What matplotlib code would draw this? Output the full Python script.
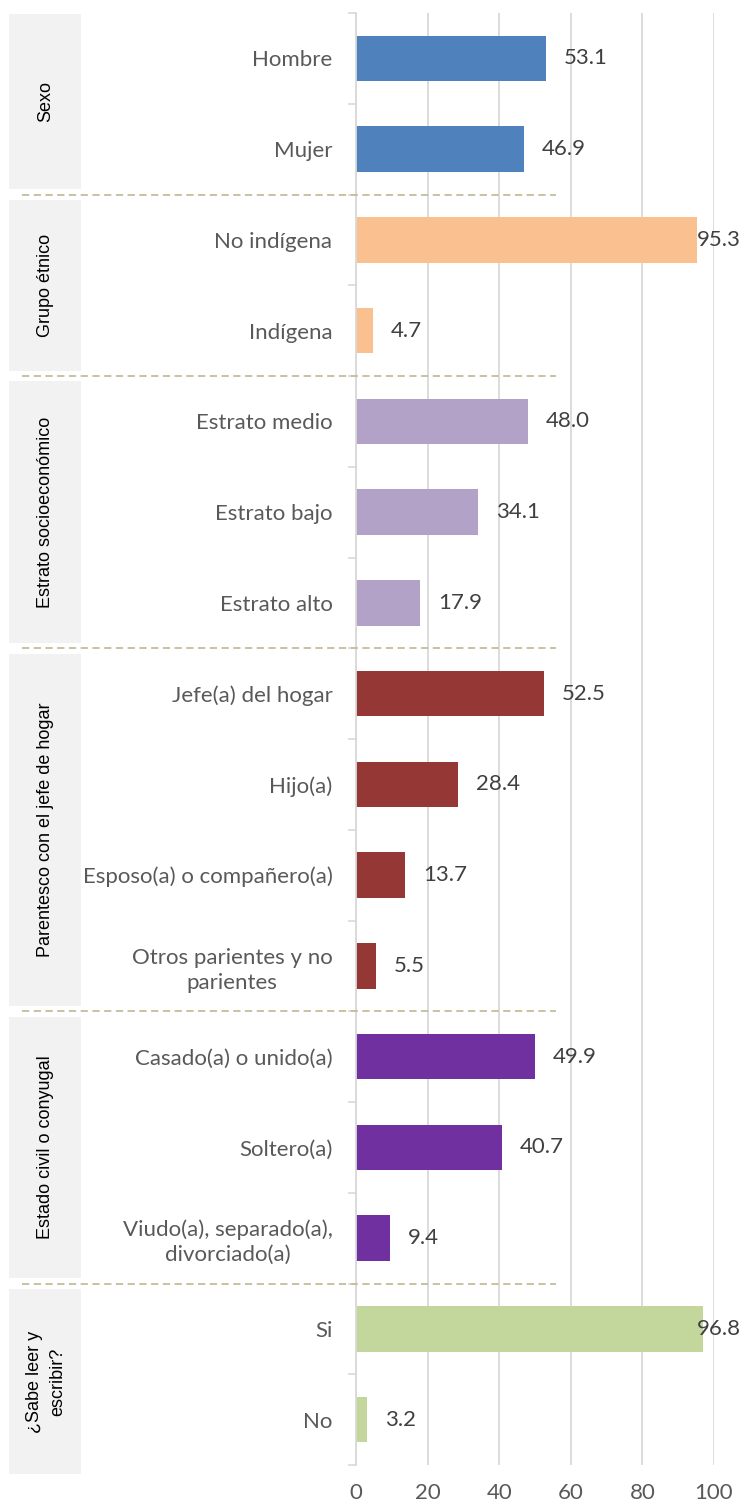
import numpy as np
import matplotlib
matplotlib.use("Agg")
import matplotlib.pyplot as plt
from matplotlib import font_manager
from matplotlib.patches import Rectangle
from matplotlib.lines import Line2D
from matplotlib.transforms import blended_transform_factory

# data
categories = ["Hombre", "Mujer",
              "No indígena", "Indígena",
              "Estrato medio", "Estrato bajo", "Estrato alto",
              "Jefe(a) del hogar", "Hijo(a)", "Esposo(a) o compañero(a)",
              "Otros parientes y no\nparientes",
              "Casado(a) o unido(a)", "Soltero(a)",
              "Viudo(a), separado(a),\ndivorciado(a)",
              "Si", "No"]
values = [53.1, 46.9,
          95.3, 4.7,
          48.0, 34.1, 17.9,
          52.5, 28.4, 13.7, 5.5,
          49.9, 40.7, 9.4,
          96.8, 3.2]
groups = ["Sexo", "Grupo étnico", "Estrato socioeconómico",
          "Parentesco con el jefe de hogar", "Estado civil o conyugal",
          "¿Sabe leer y\nescribir?"]
group_sizes = [2, 2, 3, 4, 3, 2]
group_colors = ["#4F81BD", "#FAC090", "#B3A2C7", "#953735", "#7030A0", "#C3D69B"]
xticks = [0, 20, 40, 60, 80, 100]

W, H = 742, 1505
fig = plt.figure(figsize=(W / 100, H / 100), dpi=100)
ax = fig.add_axes([356 / W, 1 - 1465 / H, (714 - 356) / W, (1465 - 13) / H])

colors = []
for c, n in zip(group_colors, group_sizes):
    colors += [c] * n

y = np.arange(len(categories))
ax.barh(y, values, height=0.5, color=colors, zorder=2)
ax.set_ylim(len(categories) - 0.5, -0.5)
ax.set_xlim(0, 100)

lab_font = "Lato"
fs = 16
tr_lab = blended_transform_factory(fig.transFigure, ax.transData)
for yi, v in zip(y, values):
    if v > 90:
        # no room on the right: label pushed against the edge
        ax.text(741 / W, yi, f"{v:.1f}", transform=tr_lab, va="center", ha="right",
                fontsize=fs, color="#404040", family=lab_font)
    else:
        ax.annotate(f"{v:.1f}", (v, yi), xytext=(13, 0), textcoords="offset points",
                    va="center", ha="left", fontsize=fs, color="#404040",
                    family=lab_font)

ax.set_yticks(y)
ax.set_yticklabels(categories, fontsize=fs, color="#595959", family=lab_font)
for t in ax.get_yticklabels():
    t.set_multialignment("center")
    t.set_linespacing(1.3)
ax.tick_params(axis="y", length=0, pad=17)
ax.set_yticks(np.arange(len(categories) + 1) - 0.5, minor=True)
ax.tick_params(axis="y", which="minor", length=6, color="#D9D9D9", width=1.2)

ax.set_xticks(xticks)
ax.set_xticklabels([str(t) for t in xticks], fontsize=fs, color="#595959", family=lab_font)
ax.tick_params(axis="x", length=0, pad=13)
ax.grid(axis="x", color="#D9D9D9", lw=1.3, zorder=0)
for s in ["top", "right", "bottom"]:
    ax.spines[s].set_visible(False)
ax.spines["left"].set_color("#D9D9D9")
ax.spines["left"].set_linewidth(1.3)
ax.spines["left"].set_zorder(3)

# narrow font for the group names if there is one
names = {f.name for f in font_manager.fontManager.ttflist}
if "Liberation Sans Narrow" in names:
    grp_font, grp_fs, grp_ls = "Liberation Sans Narrow", 16, 1.1
else:
    grp_font, grp_fs, grp_ls = "Liberation Sans", 13, 1.45

# group boxes and separators
tr = blended_transform_factory(fig.transFigure, ax.transData)
bounds = np.concatenate([[0], np.cumsum(group_sizes)]) - 0.5
for i, g in enumerate(groups):
    top = bounds[i] + 0.06 if i > 0 else -0.49
    bot = bounds[i + 1] - 0.06 if i < len(groups) - 1 else 15.6
    fig.add_artist(Rectangle((9 / W, top), 72 / W, bot - top, transform=tr,
                             facecolor="#F2F2F2", edgecolor="none", clip_on=False))
    fig.text(46 / W, (top + bot) / 2, g, transform=tr, rotation=90, ha="center",
             va="center", fontsize=grp_fs, family=grp_font, color="black",
             multialignment="center", linespacing=grp_ls)
    if i > 0:
        fig.add_artist(Line2D([22 / W, 556 / W], [bounds[i]] * 2, transform=tr,
                              color="#C4BD97", lw=1.3, ls=(0, (4, 2.5))))

fig.savefig("out.png", dpi=100)
